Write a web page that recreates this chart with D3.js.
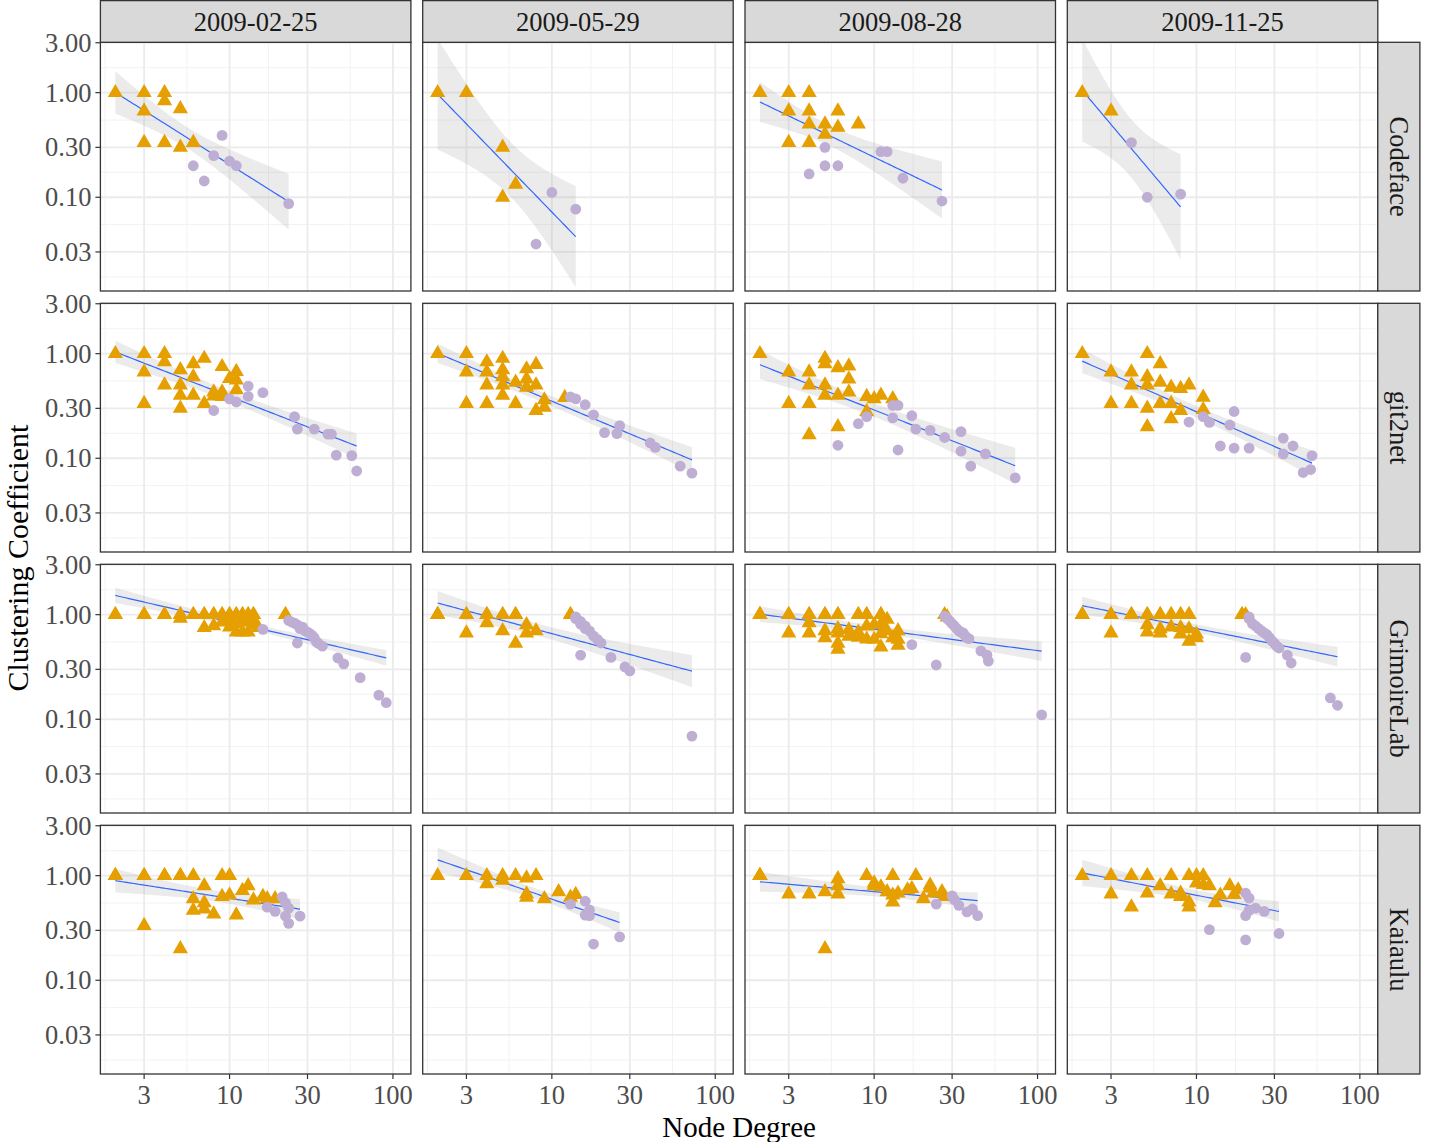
<!DOCTYPE html>
<html><head><meta charset="utf-8">
<script src="https://cdn.jsdelivr.net/npm/d3@7"></script>
<style>body{margin:0;background:#fff}svg{display:block}</style>
</head><body>
<svg id="c" width="1437" height="1142"></svg>
<script>
const projects = ["Codeface","git2net","GrimoireLab","Kaiaulu"];
const dates = ["2009-02-25","2009-05-29","2009-08-28","2009-11-25"];
const xTickValues = [3,10,30,100];
const xTickLabels = ["3","10","30","100"];
const yTickValues = [0.03,0.1,0.3,1,3];
const yTickLabels = ["0.03","0.10","0.30","1.00","3.00"];
const xMajor = [3,10,30,100];
const xMinor = [1.732,5.477,17.32,54.77];
const yMajor = [0.03,0.1,0.3,1,3];
const yMinor = [0.01732,0.05477,0.1732,0.5477,1.732];

// [degree, clustering coefficient]; T = triangles (orange), C = circles (purple)
const cf1T = [[2,1],[3,1],[4,1],[4,0.833],[5,0.7],[3,0.667],[3,0.333],[4,0.333],[5,0.3],[6,0.333]];
const cf1C = [[9,0.39],[6,0.2],[7,0.143],[8,0.25],[10,0.222],[11,0.2],[23,0.087]];
const cf2T = [[2,1],[3,1],[5,0.3],[6,0.133],[5,0.1]];
const cf2C = [[10,0.111],[14,0.077],[8,0.0357]];
const cf3T = [[2,1],[3,1],[4,1],[3,0.667],[4,0.667],[6,0.667],[4,0.5],[5,0.5],[6,0.467],[8,0.5],[5,0.4],[3,0.333],[4,0.333]];
const cf3C = [[5,0.3],[5,0.2],[6,0.2],[4,0.167],[11,0.273],[12,0.273],[15,0.152],[26,0.092]];
const cf4T = [[2,1],[3,0.667]];
const cf4C = [[4,0.333],[5,0.1],[8,0.107]];

const g1T = [[2,1],[3,1],[4,1],[4,0.833],[3,0.667],[7,0.9],[5,0.7],[6,0.8],[9,0.75],[6,0.6],[4,0.5],[5,0.5],[5,0.4],[6,0.4],[3,0.333],[5,0.3],[7,0.333],[11,0.673],[10,0.578],[11,0.56],[8,0.43],[9,0.43],[8,0.393],[9,0.389],[11,0.45]];
const g1C = [[13,0.49],[16,0.424],[13,0.39],[11,0.345],[10,0.37],[8,0.286],[25,0.25],[26,0.19],[33,0.19],[40,0.17],[42,0.17],[45,0.107],[56,0.106],[60,0.0755]];
const g2T = [[2,1],[3,1],[3,0.667],[3,0.333],[4,0.833],[4,0.667],[4,0.5],[4,0.333],[5,0.9],[5,0.7],[5,0.6],[5,0.5],[5,0.4],[6,0.533],[6,0.333],[7,0.714],[7,0.571],[7,0.476],[8,0.786],[8,0.5],[8,0.286],[9,0.361],[9,0.306],[12,0.38]];
const g2C = [[13,0.385],[14,0.37],[16,0.325],[18,0.26],[21,0.176],[25,0.172],[26,0.205],[40,0.14],[43,0.127],[61,0.084],[72,0.072]];
const g3T = [[2,1],[3,0.667],[3,0.333],[4,0.667],[4,0.5],[4,0.333],[4,0.167],[5,0.9],[5,0.8],[5,0.5],[5,0.4],[6,0.733],[6,0.4],[6,0.2],[7,0.762],[7,0.571],[7,0.429],[9,0.389],[9,0.278],[10,0.37],[11,0.4],[13,0.37]];
const g3C = [[13,0.32],[14,0.32],[17,0.255],[9,0.25],[8,0.214],[13,0.243],[18,0.19],[22,0.185],[27,0.158],[34,0.18],[34,0.117],[48,0.11],[6,0.133],[14,0.12],[39,0.084],[73,0.065]];
const g4T = [[2,1],[3,0.667],[3,0.333],[4,0.667],[4,0.5],[4,0.333],[5,1],[5,0.6],[5,0.5],[5,0.3],[5,0.2],[6,0.8],[6,0.533],[6,0.333],[7,0.476],[7,0.333],[7,0.238],[8,0.464],[8,0.286],[9,0.5],[11,0.382],[11,0.291]];
const g4C = [[9,0.222],[11,0.25],[12,0.22],[17,0.28],[16,0.208],[14,0.131],[17,0.125],[21,0.125],[34,0.156],[39,0.131],[34,0.11],[51,0.106],[45,0.073],[50,0.078]];

// overlapping (coincident) nodes are listed more than once
const gl1T = [[2,1],[2,1],[3,1],[3,1],[4,1],[4,1],[5,1],[5,1],[6,1],[6,1],[7,1],[7,1],[8,1],[8,1],[9,1],[9,1],[10,1],[10,1],[11,1],[11,1],[12,1],[12,1],[13,1],[13,1],[14,1],[14,1],[22,1],[22,1],[5,0.92],[7,0.75],[8,0.78],[10,0.76],[11,0.68],[12,0.68],[13,0.68],[14,0.8],[15,0.75],[9,0.85],[12,0.85],[13,0.88],[11,0.82],[10,0.9],[12,0.9],[14,0.9]];
const gl1C = [[16,0.724],[23,0.88],[24,0.85],[25,0.83],[26,0.8],[27,0.735],[28,0.76],[29,0.7],[30,0.68],[31,0.66],[26,0.536],[32,0.635],[33,0.6],[34,0.55],[35,0.53],[37,0.5],[46,0.385],[50,0.338],[63,0.25],[82,0.17],[91,0.144]];
const gl2T = [[2,1],[2,1],[2,1],[3,1],[3,1],[3,0.667],[4,1],[4,1],[4,0.833],[5,1],[5,1],[5,0.7],[6,1],[6,1],[6,0.533],[7,0.8],[7,0.667],[8,0.7],[13,1],[13,1]];
const gl2C = [[14,0.95],[14,0.915],[15,0.86],[15,0.81],[16,0.78],[16,0.735],[17,0.7],[18,0.625],[19,0.58],[20,0.536],[15,0.41],[23,0.39],[28,0.316],[30,0.29],[72,0.069]];
const gl3T = [[2,1],[2,1],[2,1],[3,1],[3,1],[4,1],[4,1],[5,1],[5,1],[6,1],[6,1],[8,1],[8,1],[9,1],[9,1],[11,1],[11,1],[27,1],[28,0.95],[3,0.667],[4,0.833],[4,0.667],[5,0.7],[5,0.6],[6,0.733],[6,0.667],[6,0.533],[6,0.467],[7,0.714],[7,0.619],[8,0.679],[8,0.607],[9,0.778],[9,0.583],[10,0.58],[11,0.81],[11,0.655],[11,0.49],[13,0.6],[14,0.58],[14,0.51],[12,0.9],[10,0.8],[12,0.7],[14,0.7]];
const gl3C = [[17,0.517],[24,0.33],[27,0.97],[28,0.915],[29,0.87],[30,0.82],[31,0.78],[32,0.735],[33,0.7],[34,0.68],[35,0.67],[36,0.63],[37,0.6],[38,0.59],[45,0.45],[49,0.41],[50,0.36],[106,0.11]];
const gl4T = [[2,1],[2,1],[2,1],[3,1],[3,1],[4,1],[4,1],[5,1],[5,1],[6,1],[6,1],[7,1],[7,1],[8,1],[8,1],[9,1],[9,1],[19,1],[19,1],[20,1],[3,0.667],[5,0.8],[5,0.68],[6,0.733],[6,0.667],[7,0.76],[8,0.75],[8,0.65],[9,0.73],[9,0.556],[10,0.65],[10,0.6]];
const gl4C = [[21,0.95],[21,0.915],[22,0.82],[23,0.78],[24,0.735],[25,0.7],[26,0.67],[27,0.645],[28,0.6],[29,0.56],[30,0.532],[31,0.5],[32,0.48],[36,0.41],[38,0.345],[20,0.39],[66,0.16],[73,0.136]];

const k1T = [[2,1],[2,1],[2,1],[3,1],[3,1],[4,1],[4,1],[5,1],[5,1],[6,1],[9,1],[10,1],[7,0.8],[13,0.8],[12,0.72],[9,0.63],[10,0.65],[6,0.6],[7,0.55],[6,0.467],[7,0.48],[8,0.43],[11,0.42],[14,0.585],[16,0.63],[17,0.6],[19,0.6],[3,0.333],[5,0.2]];
const k1C = [[21,0.625],[22,0.55],[17,0.5],[19,0.456],[23,0.49],[22,0.41],[23,0.35],[27,0.41]];
const k2T = [[2,1],[3,1],[4,1],[4,0.833],[5,1],[5,0.9],[6,1],[7,0.95],[8,1],[7,0.667],[7,0.619],[9,0.6],[11,0.7],[14,0.66],[13,0.62]];
const k2C = [[13,0.535],[16,0.57],[17,0.47],[17,0.415],[16,0.42],[18,0.222],[26,0.26]];
const k3T = [[2,1],[2,1],[2,1],[2,1],[3,0.667],[4,0.667],[5,0.7],[5,0.2],[6,0.933],[6,0.8],[6,0.667],[9,1],[10,0.85],[10,0.8],[11,0.78],[12,0.7],[13,1],[13,0.65],[13,0.56],[14,0.68],[16,0.73],[17,0.75],[18,1],[20,0.6],[22,0.81],[22,0.76],[23,0.68],[26,0.7],[27,0.63]];
const k3C = [[24,0.535],[30,0.64],[31,0.59],[33,0.52],[37,0.45],[40,0.48],[43,0.415]];
const k4T = [[2,1],[3,1],[3,0.667],[4,1],[4,0.5],[5,1],[5,0.68],[6,0.8],[7,1],[7,0.667],[8,0.68],[8,0.63],[9,1],[9,0.56],[9,0.5],[10,1],[11,1],[10,0.85],[11,0.82],[12,0.8],[13,0.55],[14,0.65],[16,0.8],[18,0.73],[17,0.66]];
const k4C = [[20,0.68],[21,0.61],[21,0.466],[23,0.49],[26,0.456],[20,0.415],[12,0.305],[20,0.243],[32,0.28]];

const panelTri = [[cf1T,cf2T,cf3T,cf4T],[g1T,g2T,g3T,g4T],[gl1T,gl2T,gl3T,gl4T],[k1T,k2T,k3T,k4T]];
const panelCirc = [[cf1C,cf2C,cf3C,cf4C],[g1C,g2C,g3C,g4C],[gl1C,gl2C,gl3C,gl4C],[k1C,k2C,k3C,k4C]];

// layout
const left0 = 100.4, pw = 310.5, colStep = 322.3;
const top0 = 42.3, ph = 248.7, rowStep = 261;
const stripW = 42.1;
const FONT = "'Liberation Serif','Times New Roman',serif";
const ORANGE = "#E69F00", PURPLE = "#BEAED4";

const svg = d3.select("#c");
const x = d3.scaleLog().domain([1.62,128.8]).range([0,pw]);
const y = d3.scaleLog().domain([0.0127,3.03]).range([ph,0]);

function tq(df){
  const z = 1.959964;
  return z + (z**3+z)/(4*df) + (5*z**5+16*z**3+3*z)/(96*df*df) + (3*z**7+19*z**5+17*z**3-15*z)/(384*df**3);
}
function fit(pts){
  const X = pts.map(p=>Math.log10(p[0])), Y = pts.map(p=>Math.log10(p[1]));
  const n = X.length, xb = d3.mean(X), yb = d3.mean(Y);
  let sxx=0, sxy=0;
  for(let i=0;i<n;i++){ sxx += (X[i]-xb)**2; sxy += (X[i]-xb)*(Y[i]-yb); }
  const b = sxy/sxx, a = yb - b*xb;
  let rss = 0;
  for(let i=0;i<n;i++){ rss += (Y[i]-a-b*X[i])**2; }
  const s = Math.sqrt(rss/(n-2)), t = tq(n-2);
  const lo = d3.min(X), hi = d3.max(X);
  const out = [];
  for(let k=0;k<=80;k++){
    const xv = lo + (hi-lo)*k/80;
    const se = s*Math.sqrt(1/n + (xv-xb)**2/sxx);
    const yv = a + b*xv;
    out.push({x:10**xv, y:10**yv, y0:10**(yv - t*se), y1:10**(yv + t*se)});
  }
  return out;
}

const defs = svg.append("defs");
defs.append("clipPath").attr("id","pclip").append("rect").attr("width",pw).attr("height",ph);

for(let r=0;r<4;r++){
  for(let c=0;c<4;c++){
    const g = svg.append("g").attr("transform",`translate(${left0+c*colStep},${top0+r*rowStep})`);
    g.append("rect").attr("width",pw).attr("height",ph).attr("fill","#fff");
    // minor grid
    g.selectAll(null).data(xMinor.filter(v=>v>=x.domain()[0]&&v<=x.domain()[1])).enter().append("line")
      .attr("x1",d=>x(d)).attr("x2",d=>x(d)).attr("y1",0).attr("y2",ph)
      .attr("stroke","#F0F0F0").attr("stroke-width",0.9);
    g.selectAll(null).data(yMinor.filter(v=>v>=y.domain()[0]&&v<=y.domain()[1])).enter().append("line")
      .attr("y1",d=>y(d)).attr("y2",d=>y(d)).attr("x1",0).attr("x2",pw)
      .attr("stroke","#F0F0F0").attr("stroke-width",0.9);
    // major grid
    g.selectAll(null).data(xMajor).enter().append("line")
      .attr("x1",d=>x(d)).attr("x2",d=>x(d)).attr("y1",0).attr("y2",ph)
      .attr("stroke","#EBEBEB").attr("stroke-width",1.8);
    g.selectAll(null).data(yMajor).enter().append("line")
      .attr("y1",d=>y(d)).attr("y2",d=>y(d)).attr("x1",0).attr("x2",pw)
      .attr("stroke","#EBEBEB").attr("stroke-width",1.8);

    const tri = panelTri[r][c], circ = panelCirc[r][c];
    const f = fit(tri.concat(circ));
    const cg = g.append("g").attr("clip-path","url(#pclip)");
    cg.append("path").datum(f)
      .attr("d", d3.area().x(d=>x(d.x)).y0(d=>y(d.y0)).y1(d=>y(d.y1)))
      .attr("fill","#999999").attr("fill-opacity",0.2);
    cg.append("path").datum(f)
      .attr("d", d3.line().x(d=>x(d.x)).y(d=>y(d.y)))
      .attr("fill","none").attr("stroke","#3366FF").attr("stroke-width",1.2);

    g.selectAll(null).data(tri).enter().append("path")
      .attr("d", d3.symbol().type(d3.symbolTriangle).size(100))
      .attr("transform", d=>`translate(${x(d[0])},${y(d[1])})`)
      .attr("fill",ORANGE);
    g.selectAll(null).data(circ).enter().append("circle")
      .attr("cx",d=>x(d[0])).attr("cy",d=>y(d[1])).attr("r",5.4)
      .attr("fill",PURPLE);

    g.append("rect").attr("width",pw).attr("height",ph)
      .attr("fill","none").attr("stroke","#333333").attr("stroke-width",1.3);

    // axes
    if(c===0){
      const ya = g.append("g");
      ya.selectAll(null).data(yTickValues).enter().append("line")
        .attr("x1",-5).attr("x2",0).attr("y1",d=>y(d)).attr("y2",d=>y(d))
        .attr("stroke","#333").attr("stroke-width",1.2);
      ya.selectAll(null).data(yTickValues).enter().append("text")
        .attr("x",-9).attr("y",d=>y(d)+9).attr("text-anchor","end")
        .attr("font-family",FONT).attr("font-size",26.5).attr("fill","#4D4D4D")
        .text((d,i)=>yTickLabels[i]);
    }
    if(r===3){
      const xa = g.append("g");
      xa.selectAll(null).data(xTickValues).enter().append("line")
        .attr("y1",ph).attr("y2",ph+5).attr("x1",d=>x(d)).attr("x2",d=>x(d))
        .attr("stroke","#333").attr("stroke-width",1.2);
      xa.selectAll(null).data(xTickValues).enter().append("text")
        .attr("x",d=>x(d)).attr("y",ph+30).attr("text-anchor","middle")
        .attr("font-family",FONT).attr("font-size",26.5).attr("fill","#4D4D4D")
        .text((d,i)=>xTickLabels[i]);
    }
  }
}

// top strips
dates.forEach((d,c)=>{
  const gx = left0 + c*colStep;
  svg.append("rect").attr("x",gx).attr("y",0.6).attr("width",pw).attr("height",top0-0.6)
    .attr("fill","#D9D9D9").attr("stroke","#333").attr("stroke-width",1.3);
  svg.append("text").attr("x",gx+pw/2).attr("y",30.5).attr("text-anchor","middle")
    .attr("font-family",FONT).attr("font-size",26.5).attr("fill","#1A1A1A").text(d);
});
// right strips
projects.forEach((p,r)=>{
  const gy = top0 + r*rowStep;
  const sx = left0 + 3*colStep + pw;
  svg.append("rect").attr("x",sx).attr("y",gy).attr("width",stripW).attr("height",ph)
    .attr("fill","#D9D9D9").attr("stroke","#333").attr("stroke-width",1.3);
  svg.append("text").attr("transform",`translate(${sx+stripW/2},${gy+ph/2}) rotate(90)`)
    .attr("text-anchor","middle").attr("dy","0.35em")
    .attr("font-family",FONT).attr("font-size",26.5).attr("fill","#1A1A1A").text(p);
});

// axis titles
const plotMidX = (left0 + left0 + 3*colStep + pw)/2;
svg.append("text").attr("x",plotMidX).attr("y",1137).attr("text-anchor","middle")
  .attr("font-family",FONT).attr("font-size",29).attr("fill","#000").text("Node Degree");
svg.append("text").attr("transform",`translate(28,${(top0 + top0+3*rowStep+ph)/2}) rotate(-90)`)
  .attr("text-anchor","middle")
  .attr("font-family",FONT).attr("font-size",30).attr("fill","#000").text("Clustering Coefficient");
</script>
</body></html>
